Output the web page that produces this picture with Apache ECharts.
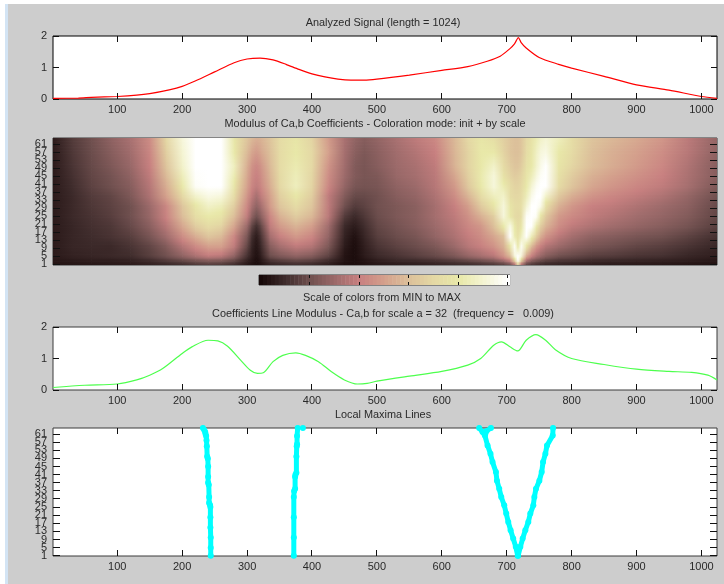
<!DOCTYPE html>
<html><head><meta charset="utf-8">
<script src="https://cdn.jsdelivr.net/npm/echarts@6/dist/echarts.min.js"></script>
<style>
html,body{margin:0;padding:0;background:#fff;width:724px;height:584px;overflow:hidden}
#strip{position:absolute;left:5px;top:4px;width:3px;height:580px;background:#d3e4f4}
#panel{position:absolute;left:8px;top:4px;width:716px;height:580px;background:#cdcdcd}
#chart{position:absolute;left:0;top:0;width:724px;height:584px}
</style></head><body>
<div id="strip"></div><div id="panel"></div><div id="chart"></div>
<script>
const titles = [
  ['Analyzed Signal (length = 1024)', 383, 23],
  ['Modulus of Ca,b Coefficients - Coloration mode: init + by scale', 375, 124],
  ['Scale of colors from MIN to MAX', 382, 298],
  ['Coefficients Line Modulus - Ca,b for scale a = 32  (frequency =   0.009)', 383, 314],
  ['Local Maxima Lines', 383, 415]
];
const xTicks = [100,200,300,400,500,600,700,800,900,1000];
const scaleTicks = [1,5,9,13,17,21,25,29,33,37,41,45,49,53,57,61];
const valueTicks = [0,1,2];
const colorbarTicks = [13,25.6,38.2,50.8,63.4];

const signal = [[1,.02],[40,.03],[60,.05],[100,.08],[130,.12],[150,.17],[180,.29],[200,.4],[220,.57],[250,.86],[280,1.15],[300,1.27],[320,1.3],[340,1.24],[360,1.1],[380,.94],[400,.8],[420,.7],[440,.63],[460,.6],[480,.6],[500,.63],[550,.76],[600,.91],[640,1.03],[670,1.2],[690,1.36],[705,1.6],[712,1.75],[718,1.95],[722,1.8],[730,1.62],[750,1.32],[780,1.1],[800,.98],[850,.72],[900,.45],[950,.28],[1000,.08],[1024,.02]];
const lineModulus = [[1,.08],[50,.15],[100,.19],[130,.32],[150,.47],[170,.68],[200,1.16],[215,1.37],[240,1.58],[255,1.56],[270,1.39],[290,.95],[305,.63],[316,.53],[325,.55],[340,.9],[355,1.1],[375,1.18],[390,1.1],[410,.9],[430,.58],[450,.32],[470,.19],[485,.21],[500,.28],[550,.44],[600,.59],[640,.79],[660,1],[680,1.42],[692,1.53],[705,1.37],[717,1.24],[730,1.58],[745,1.76],[760,1.58],[775,1.28],[800,1],[850,.81],[900,.66],[950,.59],[985,.56],[1010,.47],[1024,.32]];

const maximaA = [[244,1],[244,5],[244,10],[243.5,15],[243.5,20],[243.5,25],[243,26],[241.5,27],[241.5,30],[241,36],[240,37],[240,40],[240,45],[239.5,49],[238.5,50],[238,55],[237.5,58],[237,60],[236,61],[235.5,62],[234,63],[232,64]];
const maximaB = [[372,1],[372,10],[372,20],[372,30],[372.5,33],[374,34],[374,40],[374.5,41],[376,42],[376,50],[376.5,55],[377,56],[377,60],[378,64]];
const maximaC = [[717,1],[714,5.4],[710,9.5],[706,13.6],[702.4,17.7],[699.3,21.8],[696.2,25.9],[691.6,30],[688.5,34],[685,38],[683.4,42.3],[678.2,47.2],[675,51.3],[670.5,55.4],[666.4,60.3],[662.8,62],[657.6,64]];
const maximaD = [[717.5,1],[721,5.4],[724.6,9.5],[728.7,13.6],[733.3,17.7],[736.4,21.8],[741,25.9],[742.6,30],[745.1,34],[750.3,38],[753.9,42.3],[756,47.2],[759.6,51.3],[762.1,55.4],[770.9,60.3],[771.4,64]];
const maximaE = [[667,61],[669,62.5],[675.7,64]];
const maximaDots = [[386,64]];

const heatColumns = [1,30,60,90,120,150,175,200,220,240,260,280,300,307,314,321,335,350,375,400,425,450,465,480,500,530,560,590,620,640,660,680,695,705,712,717,722,730,738,745,752,760,780,800,830,860,900,940,980,1024];
const heatScales = [1,3,5,10,15,20,25,30,35,40,45,50,57,64];
const heatRows = [
[3,3,3,4,4,5,6,7,9,10,9,7,3,2,1,2,5,6,7,6,4,1,1,2,3,3,4,5,6,6,7,8,9,12,20,60,20,10,8,7,6,5,5,4,4,3,3,3,2,2],
[4,5,6,6,7,10,14,18,22,25,24,18,7,4,1,4,12,15,18,16,10,3,1,3,6,9,10,12,15,18,21,25,32,42,70,100,70,35,26,22,19,16,13,12,10,9,8,7,6,4],
[5,7,8,9,10,15,20,27,33,38,36,27,11,6,2,6,19,23,27,24,16,3,1,5,9,12,15,18,23,28,32,36,46,58,92,100,92,52,40,33,29,25,20,18,15,14,12,11,8,6],
[5,8,9,9,12,17,24,35,43,50,50,38,17,8,3,9,25,32,38,35,23,5,1,6,12,16,19,23,30,36,40,46,55,78,98,80,98,78,58,47,40,35,30,26,22,20,17,15,12,8],
[5,8,10,12,15,22,31,44,54,62,58,42,22,11,5,12,32,40,48,42,28,7,2,8,15,19,22,28,34,39,44,52,60,100,82,75,85,100,84,66,54,46,37,32,27,25,22,20,16,11],
[5,8,11,13,18,26,36,52,65,72,68,51,29,17,10,17,38,48,56,49,31,9,5,10,17,21,25,30,36,42,47,60,80,95,80,72,78,100,100,82,65,56,44,38,34,31,28,25,21,15],
[5,9,12,15,20,29,41,59,73,80,77,59,38,27,20,26,42,55,65,57,37,14,9,13,19,23,26,32,38,45,55,66,92,80,72,70,73,98,100,98,78,63,48,43,38,35,31,28,24,17],
[5,9,13,16,20,30,42,62,78,87,84,65,42,33,27,32,48,62,72,62,38,20,14,16,20,23,26,32,40,49,64,78,92,78,73,72,74,90,100,100,95,74,55,47,40,38,34,30,26,18],
[5,9,14,17,23,34,50,70,88,94,92,72,46,38,32,38,50,66,79,65,38,24,18,18,20,25,28,34,44,56,72,85,88,73,70,70,72,84,95,100,100,88,63,54,46,42,38,34,28,20],
[5,10,16,20,25,36,54,80,98,100,100,78,50,42,38,42,54,70,85,68,42,28,22,21,22,27,30,36,48,63,80,92,82,72,68,68,70,80,90,97,100,100,72,62,52,47,42,38,32,23],
[5,11,17,21,27,38,58,84,99,100,100,82,52,44,40,44,56,71,84,69,44,30,24,22,23,29,32,37,52,66,81,92,76,68,65,66,68,77,84,92,98,100,75,65,55,50,45,40,33,25],
[5,12,18,23,29,40,62,88,100,100,100,85,54,46,42,46,58,72,82,70,46,31,24,22,25,30,33,38,56,68,80,88,72,65,62,62,65,75,80,88,95,100,78,69,59,54,48,42,34,25],
[5,13,19,25,31,42,66,90,100,100,100,80,58,52,48,52,60,72,80,70,50,32,26,23,26,31,35,40,57,68,80,80,68,62,60,60,62,72,78,86,92,94,80,72,60,55,50,44,36,27],
[5,14,20,27,33,44,70,92,100,100,100,78,62,58,55,56,62,72,78,68,48,33,28,25,28,33,38,43,58,70,78,73,66,62,60,60,62,70,76,82,87,90,85,73,62,58,53,47,37,28]
];
const colormapStops = [[0,'#170808'],[.1,'#3f2c2c'],[.2,'#70504f'],[.3,'#9c6a6a'],[.4,'#c88080'],[.5,'#d4a08c'],[.6,'#dcc09a'],[.7,'#e4d8a4'],[.8,'#e8e8a8'],[.9,'#f4f4d2'],[1,'#ffffff']];
const colorbarLevels = Array.from({length:64},(_, i)=>i);

function hexRgb(h){return [1,3,5].map(i=>parseInt(h.substr(i,2),16));}
const stopRgb = colormapStops.map(s=>[s[0],hexRgb(s[1])]);
function colorOf(t){
  t=Math.max(0,Math.min(1,t));
  for(let i=1;i<stopRgb.length;i++){
    if(t<=stopRgb[i][0]){
      const a=stopRgb[i-1],b=stopRgb[i],f=(t-a[0])/(b[0]-a[0]);
      return 'rgb('+a[1].map((v,k)=>Math.round(v+(b[1][k]-v)*f)).join(',')+')';
    }
  }
  return '#fff';
}
const heatCells=[];
heatRows.forEach((row,r)=>{ if(r<heatRows.length-1) row.forEach((v,c)=>{ if(c<row.length-1) heatCells.push([heatColumns[c],heatScales[r],v,c,r]); }); });

function renderHeat(params,api){
  const c=api.value(3),r=api.value(4);
  const x0=api.coord([heatColumns[c],heatScales[r]]);
  const x1=api.coord([heatColumns[c+1],heatScales[r+1]]);
  let yb=x0[1],yt=x1[1];
  if(r===0) yb+=2;
  if(r===heatRows.length-2) yt-=1;
  const h=yb-yt,n=Math.max(1,Math.round(h/1.5)),kids=[];
  for(let i=0;i<n;i++){
    const f=(i+.5)/n;
    const vl=heatRows[r][c]+(heatRows[r+1][c]-heatRows[r][c])*f;
    const vr=heatRows[r][c+1]+(heatRows[r+1][c+1]-heatRows[r][c+1])*f;
    kids.push({type:'rect',shape:{x:x0[0],y:yb-h*(i+1)/n-.4,width:x1[0]-x0[0]+.6,height:h/n+.8},
      style:{fill:new echarts.graphic.LinearGradient(0,0,1,0,[{offset:0,color:colorOf(vl/100)},{offset:1,color:colorOf(vr/100)}])}});
  }
  return {type:'group',children:kids};
}
function renderBar(params,api){
  const a=api.coord([api.value(0),0]),b=api.coord([api.value(0)+1,1]);
  return {type:'rect',shape:{x:a[0],y:b[1],width:b[0]-a[0]+.5,height:a[1]-b[1]},style:{fill:colorOf(api.value(0)/63)}};
}

const LEFT=53,WIDTH=664;
const gridDefs=[
  {left:LEFT,width:WIDTH,top:36,height:63},
  {left:LEFT,width:WIDTH,top:138,height:127},
  {left:259,width:251,top:275,height:10},
  {left:LEFT,width:WIDTH,top:327,height:63},
  {left:LEFT,width:WIDTH,top:428,height:128}
];
const grid=gridDefs.map((g,i)=>Object.assign({show:true,backgroundColor:'#fff',borderColor:i===0?'#000':'#3a3a3a',borderWidth:1,z:-5},g));
const font={fontFamily:'Liberation Sans',fontSize:11,color:'#2a2a2a'};
const specs=[
  {x:xTicks,xl:true,y:valueTicks,ymin:0,ymax:2,xmin:1,xmax:1024,xlen:6,ylen:6},
  {x:[],xl:false,y:scaleTicks,ymin:.5,ymax:64,xmin:1,xmax:1024,xlen:0,ylen:7},
  {x:colorbarTicks,xl:false,y:[],ymin:0,ymax:1,xmin:0,xmax:64,xlen:3,ylen:0},
  {x:xTicks,xl:true,y:valueTicks,ymin:0,ymax:2,xmin:1,xmax:1024,xlen:6,ylen:6},
  {x:xTicks,xl:true,y:scaleTicks,ymin:.9,ymax:64,xmin:1,xmax:1024,xlen:6,ylen:7}
];
const xAxis=specs.map((s,i)=>({type:'value',gridIndex:i,position:'bottom',min:s.xmin,max:s.xmax,
  splitLine:{show:false},axisLine:{show:false,onZero:false},axisTick:{show:false},
  axisLabel:{show:s.xl,margin:5,customValues:s.x,formatter:v=>String(v),...font}}));
const yAxis=specs.map((s,i)=>{
  const many=s.y.length>3;
  const shown=many?[s.ymin,...s.y,s.ymax]:s.y;
  return {type:'value',gridIndex:i,position:'left',min:s.ymin,max:s.ymax,
    splitLine:{show:false},axisLine:{show:false,onZero:false},axisTick:{show:false},
    axisLabel:{show:s.y.length>0,margin:6,customValues:shown,hideOverlap:false,
      formatter:v=>s.y.indexOf(v)>=0?String(v):'',...font}};
});
const on=i=>({xAxisIndex:i,yAxisIndex:i});

function tickSeries(i){
  const s=specs[i],out=[];
  const line=(x1,y1,x2,y2)=>({type:'line',shape:{x1,y1,x2,y2},style:{stroke:'#111',lineWidth:1}});
  const snap=p=>Math.floor(p)+.5;
  if(s.x.length) out.push({type:'custom',...on(i),data:s.x.map(v=>[v]),clip:false,silent:true,z:8,encode:{x:0},
    renderItem:(p,api)=>{
      const v=api.value(0),b=api.coord([v,s.ymin]),t=api.coord([v,s.ymax]),x=snap(b[0]);
      return {type:'group',children:[line(x,b[1],x,b[1]-s.xlen),line(x,t[1],x,t[1]+s.xlen)]};
    }});
  if(s.y.length) out.push({type:'custom',...on(i),data:s.y.map(v=>[v]),clip:false,silent:true,z:8,encode:{y:0},
    renderItem:(p,api)=>{
      const v=api.value(0),l=api.coord([s.xmin,v]),r=api.coord([s.xmax,v]),y=snap(l[1]);
      return {type:'group',children:[line(l[0],y,l[0]+s.ylen,y),line(r[0],y,r[0]-s.ylen,y)]};
    }});
  return out;
}
const cyan='#00ffff';
const maximaSeries=[maximaA,maximaB,maximaC,maximaD,maximaE].map(d=>({
  type:'line',...on(4),data:d,clip:false,showSymbol:true,symbol:'circle',symbolSize:6,silent:true,animation:false,
  lineStyle:{color:cyan,width:5,cap:'round',join:'round'},itemStyle:{color:cyan},z:3}));

const chart=echarts.init(document.getElementById('chart'),null,{renderer:'canvas'});
chart.setOption({
  animation:false,
  backgroundColor:'transparent',
  title:titles.map(t=>({text:t[0],left:t[1],top:t[2]-7,textAlign:'center',padding:0,
    textStyle:{fontFamily:'Liberation Sans',fontSize:10.9,fontWeight:'normal',color:'#2a2a2a',lineHeight:14}})),
  grid,xAxis,yAxis,
  series:[
    {type:'line',...on(0),data:signal,showSymbol:false,clip:false,smooth:.25,lineStyle:{color:'#ff0000',width:1.2},z:3},
    {type:'custom',...on(1),data:heatCells,renderItem:renderHeat,encode:{x:0,y:1},silent:true,clip:true,z:1},
    {type:'custom',...on(2),data:colorbarLevels.map(v=>[v]),renderItem:renderBar,encode:{x:0},silent:true,z:1},
    {type:'line',...on(3),data:lineModulus,showSymbol:false,clip:false,smooth:.3,lineStyle:{color:'#4dff4d',width:1.2},z:3},
    ...maximaSeries,
    {type:'scatter',...on(4),data:maximaDots,symbolSize:6,clip:false,itemStyle:{color:cyan,opacity:1},z:3},
    ...[0,1,2,3,4].flatMap(tickSeries)
  ]
});
</script></body></html>
